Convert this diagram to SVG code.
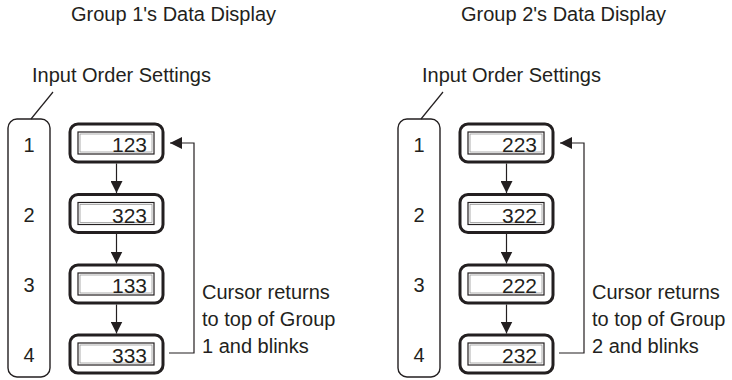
<svg xmlns="http://www.w3.org/2000/svg" width="732" height="380" viewBox="0 0 732 380">
<defs>
<style>
text{font-family:"Liberation Sans",Arial,sans-serif;font-size:20px;fill:#231f20}
.col{fill:none;stroke:#231f20;stroke-width:1.4}
.node{fill:#fff;stroke:#231f20;stroke-width:3}
.inner{fill:#fff;stroke:#231f20;stroke-width:1.2}
.inner2{fill:none;stroke:#8a8a8a;stroke-width:0.7}
.ln{fill:none;stroke:#231f20;stroke-width:1.2}
.val{text-anchor:end;font-size:21px}
.dig{text-anchor:middle}
</style>
<marker id="ah" markerWidth="13" markerHeight="12" refX="12" refY="6" orient="auto" markerUnits="userSpaceOnUse">
<path d="M0,0 L12,6 L0,12 Z" fill="#231f20"/>
</marker>
</defs>

<g id="titles">
<text x="71" y="21">Group 1's Data Display</text>
<text x="461" y="21">Group 2's Data Display</text>
</g>

<g id="group1">
<g id="order1">
<text x="32" y="82">Input Order Settings</text>
<line class="ln" x1="53" y1="92" x2="31" y2="119"/>
<rect class="col" x="8" y="119" width="42" height="258" rx="9"/>
<text class="dig" x="29" y="152">1</text>
<text class="dig" x="29" y="222">2</text>
<text class="dig" x="29" y="292">3</text>
<text class="dig" x="29" y="362">4</text>
</g>
<g id="g1n1"><rect class="node" x="70" y="124" width="93" height="38" rx="8"/><rect class="inner" x="78" y="132" width="76" height="22"/><rect class="inner2" x="80" y="134" width="72" height="18"/><text class="val" x="147" y="152">123</text></g>
<g id="g1n2"><rect class="node" x="70" y="194.5" width="93" height="38" rx="8"/><rect class="inner" x="78" y="202.5" width="76" height="22"/><rect class="inner2" x="80" y="204.5" width="72" height="18"/><text class="val" x="147" y="222.5">323</text></g>
<g id="g1n3"><rect class="node" x="70" y="265" width="93" height="38" rx="8"/><rect class="inner" x="78" y="273" width="76" height="22"/><rect class="inner2" x="80" y="275" width="72" height="18"/><text class="val" x="147" y="293">133</text></g>
<g id="g1n4"><rect class="node" x="70" y="335" width="93" height="38" rx="8"/><rect class="inner" x="78" y="343" width="76" height="22"/><rect class="inner2" x="80" y="345" width="72" height="18"/><text class="val" x="147" y="363">333</text></g>
<g id="note1">
<text x="202" y="299">Cursor returns</text>
<text x="202" y="326">to top of Group</text>
<text x="202" y="353">1 and blinks</text>
</g>
</g>

<g id="group2">
<g id="order2">
<text x="422" y="82">Input Order Settings</text>
<line class="ln" x1="443" y1="92" x2="421" y2="119"/>
<rect class="col" x="398" y="119" width="42" height="258" rx="9"/>
<text class="dig" x="419" y="152">1</text>
<text class="dig" x="419" y="222">2</text>
<text class="dig" x="419" y="292">3</text>
<text class="dig" x="419" y="362">4</text>
</g>
<g id="g2n1"><rect class="node" x="460" y="124" width="93" height="38" rx="8"/><rect class="inner" x="468" y="132" width="76" height="22"/><rect class="inner2" x="470" y="134" width="72" height="18"/><text class="val" x="537" y="152">223</text></g>
<g id="g2n2"><rect class="node" x="460" y="194.5" width="93" height="38" rx="8"/><rect class="inner" x="468" y="202.5" width="76" height="22"/><rect class="inner2" x="470" y="204.5" width="72" height="18"/><text class="val" x="537" y="222.5">322</text></g>
<g id="g2n3"><rect class="node" x="460" y="265" width="93" height="38" rx="8"/><rect class="inner" x="468" y="273" width="76" height="22"/><rect class="inner2" x="470" y="275" width="72" height="18"/><text class="val" x="537" y="293">222</text></g>
<g id="g2n4"><rect class="node" x="460" y="335" width="93" height="38" rx="8"/><rect class="inner" x="468" y="343" width="76" height="22"/><rect class="inner2" x="470" y="345" width="72" height="18"/><text class="val" x="537" y="363">232</text></g>
<g id="note2">
<text x="592" y="299">Cursor returns</text>
<text x="592" y="326">to top of Group</text>
<text x="592" y="353">2 and blinks</text>
</g>
</g>

<g id="connectors">
<line class="ln" x1="116.5" y1="163.5" x2="116.5" y2="193" marker-end="url(#ah)"/>
<line class="ln" x1="116.5" y1="234" x2="116.5" y2="263.5" marker-end="url(#ah)"/>
<line class="ln" x1="116.5" y1="304.5" x2="116.5" y2="333.5" marker-end="url(#ah)"/>
<path class="ln" d="M169,353 H194 V143 H170" marker-end="url(#ah)"/>
<line class="ln" x1="506.5" y1="163.5" x2="506.5" y2="193" marker-end="url(#ah)"/>
<line class="ln" x1="506.5" y1="234" x2="506.5" y2="263.5" marker-end="url(#ah)"/>
<line class="ln" x1="506.5" y1="304.5" x2="506.5" y2="333.5" marker-end="url(#ah)"/>
<path class="ln" d="M559,353 H584 V143 H560" marker-end="url(#ah)"/>
</g>
</svg>
